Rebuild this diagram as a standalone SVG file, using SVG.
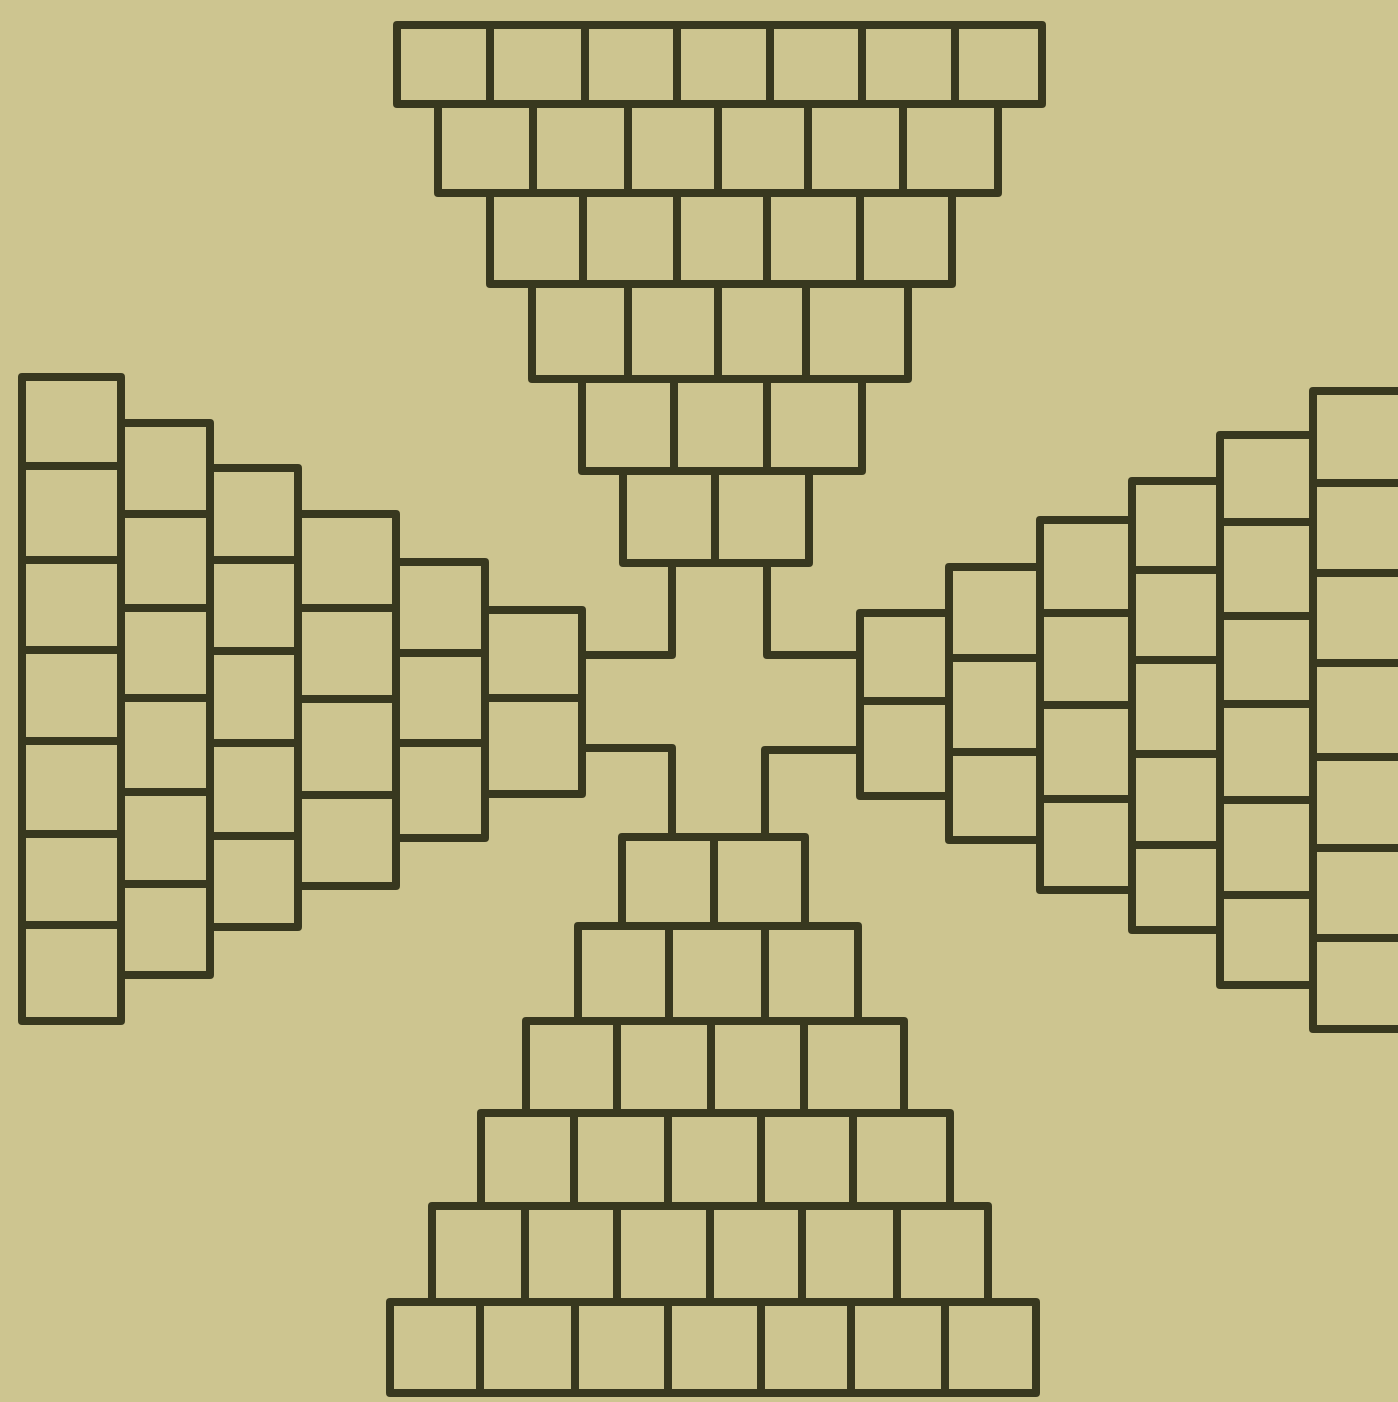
<svg xmlns="http://www.w3.org/2000/svg" width="1398" height="1402" viewBox="0 0 1398 1402">
<style>
.b{fill:none;stroke:#38381f;stroke-width:8;stroke-linejoin:round;stroke-linecap:square}
</style>
<rect width="1398" height="1402" fill="#cdc590"/>
<g id="top-pyramid" class="b">
<rect x="397" y="25" width="645" height="79"/>
<path d="M490 25V104M585 25V104M677 25V104M770 25V104M862 25V104M955 25V104"/>
<path d="M438 104V193H998V104"/>
<path d="M533 104V193M628 104V193M718 104V193M808 104V193M903 104V193"/>
<path d="M490 193V284H952V193"/>
<path d="M583 193V284M677 193V284M767 193V284M860 193V284"/>
<path d="M532 284V379H908V284"/>
<path d="M628 284V379M718 284V379M806 284V379"/>
<path d="M582 379V471H862V379"/>
<path d="M674 379V471M767 379V471"/>
<path d="M623 471V563H809V471"/>
<path d="M715 471V563"/>
</g>
<g id="left-pyramid" class="b">
<rect x="22" y="377" width="99" height="644"/>
<path d="M22 466H121M22 560H121M22 650H121M22 741H121M22 834H121M22 925H121"/>
<path d="M121 423H210V975H121"/>
<path d="M121 514H210M121 608H210M121 698H210M121 792H210M121 884H210"/>
<path d="M210 468H298V927H210"/>
<path d="M210 560H298M210 651H298M210 743H298M210 836H298"/>
<path d="M298 514H396V886H298"/>
<path d="M298 608H396M298 699H396M298 795H396"/>
<path d="M396 562H485V838H396"/>
<path d="M396 653H485M396 743H485"/>
<path d="M485 610H582V794H485"/>
<path d="M485 698H582"/>
</g>
<g id="right-pyramid" class="b">
<rect x="1313" y="391" width="95" height="638"/>
<path d="M1313 483H1408M1313 573H1408M1313 663H1408M1313 757H1408M1313 848H1408M1313 938H1408"/>
<path d="M1313 435H1220V985H1313"/>
<path d="M1220 522H1313M1220 616H1313M1220 704H1313M1220 800H1313M1220 895H1313"/>
<path d="M1220 481H1132V930H1220"/>
<path d="M1132 570H1220M1132 660H1220M1132 754H1220M1132 845H1220"/>
<path d="M1132 520H1040V890H1132"/>
<path d="M1040 613H1132M1040 705H1132M1040 799H1132"/>
<path d="M1040 567H949V840H1040"/>
<path d="M949 658H1040M949 752H1040"/>
<path d="M949 613H860V796H949"/>
<path d="M860 701H949"/>
</g>
<g id="bottom-pyramid" class="b">
<rect x="390" y="1302" width="646" height="91"/>
<path d="M480 1302V1393M575 1302V1393M668 1302V1393M761 1302V1393M851 1302V1393M945 1302V1393"/>
<path d="M432 1302V1206H988V1302"/>
<path d="M525 1206V1302M617 1206V1302M710 1206V1302M802 1206V1302M897 1206V1302"/>
<path d="M481 1206V1113H950V1206"/>
<path d="M574 1113V1206M668 1113V1206M761 1113V1206M853 1113V1206"/>
<path d="M526 1113V1021H904V1113"/>
<path d="M617 1021V1113M711 1021V1113M804 1021V1113"/>
<path d="M578 1021V926H858V1021"/>
<path d="M669 926V1021M765 926V1021"/>
<path d="M622 926V837H805V926"/>
<path d="M714 837V926"/>
</g>
<g id="connectors" class="b">
<path d="M672 563V655H582"/>
<path d="M767 563V655H860"/>
<path d="M582 748H672V837"/>
<path d="M860 750H765V837"/>
</g>
</svg>
